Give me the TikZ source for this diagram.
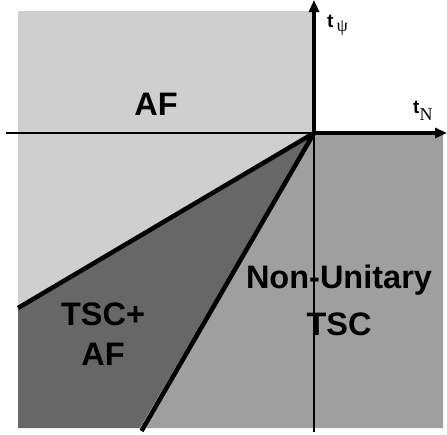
\documentclass[tikz,border=0pt]{standalone}
\usepackage{fontspec}
\setmainfont{Liberation Sans}
\newfontfamily\subfont{Liberation Serif}
\usetikzlibrary{arrows.meta}
\definecolor{lightregion}{HTML}{CFCFCF}
\definecolor{midregion}{HTML}{9F9F9F}
\definecolor{darkregion}{HTML}{676767}
\newcommand{\axsub}[2]{{\subfont\mdseries\fontsize{18}{20}\selectfont\raisebox{-#1}{#2}}}
\tikzset{
  phaselabel/.style={font=\fontsize{32.5}{40}\selectfont\bfseries, align=center, inner sep=0pt},
  axislabel/.style={font=\fontsize{19}{22}\selectfont\bfseries, inner sep=0pt, anchor=base west},
  thinaxis/.style={line width=1.8pt},
  thickaxis/.style={line width=4.2pt, -{Triangle[length=12pt,width=10pt]}},
  boundary/.style={line width=4.5pt}
}
\begin{document}
\begin{tikzpicture}[x=1pt, y=-1pt]
\useasboundingbox (0,0) rectangle (447,434);
% key points of the diagram
\coordinate (O) at (314,133);
\coordinate (TL) at (18,11);
\coordinate (TR) at (314,11);
\coordinate (UL) at (18,308);
\coordinate (BL) at (18,428);
\coordinate (BM) at (140,428);
\coordinate (BMext) at (141.5,431);
\coordinate (BR) at (443,428);
\coordinate (RR) at (443,133);
\coordinate (Xl) at (6,133);
\coordinate (Xr) at (447,133);
\coordinate (Yt) at (314,0);
\coordinate (Yb) at (314,432);
% phase regions
\fill[lightregion] (TL) -- (TR) -- (O) -- (UL) -- cycle;
\fill[darkregion] (O) -- (UL) -- (BL) -- (BM) -- cycle;
\fill[midregion] (O) -- (BM) -- (BR) -- (RR) -- cycle;
% axes
\draw[thinaxis] (Xl) -- (O);
\draw[thinaxis] (O) -- (Yb);
\draw[thickaxis] (O) -- (Xr);
\draw[thickaxis] (O) -- (Yt);
% phase boundaries
\draw[boundary] (O) -- (UL);
\draw[boundary] (O) -- (BMext);
% labels
\node[phaselabel] (af) at (156,104) {AF};
\node[phaselabel, font=\fontsize{32.5}{40}\selectfont\bfseries] (tscaf) at (103,334) {TSC+\\AF};
\node[phaselabel, font=\fontsize{32.5}{47}\selectfont\bfseries] (nu) at (339,300) {Non-Unitary\\TSC};
\node[axislabel] (ty) at (327,27) {t\,\axsub{4pt}{ψ}};
\node[axislabel] (tn) at (413,113) {t\axsub{7pt}{N}};
\end{tikzpicture}
\end{document}
